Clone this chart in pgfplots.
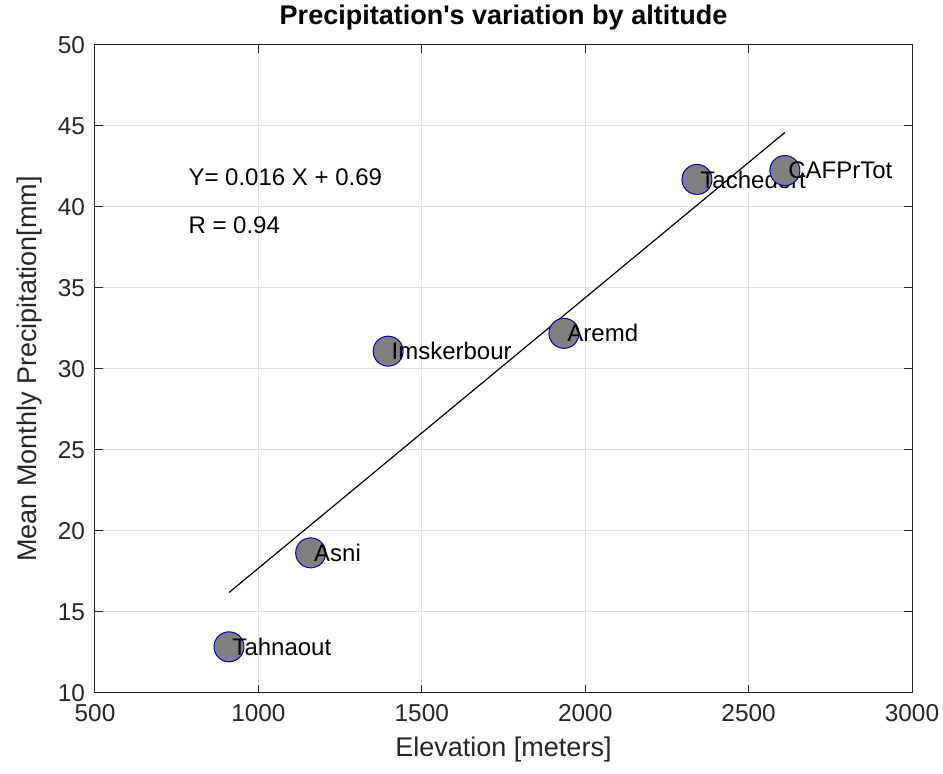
\documentclass[border=0pt]{standalone}
\usepackage{fontspec}
\setmainfont{Liberation Sans}
\usepackage{pgfplots}
\usepackage{pgfplotstable}
\pgfplotsset{compat=1.18}
\definecolor{axgray}{HTML}{262626}
\definecolor{gridc}{HTML}{DFDFDF}
\definecolor{mkgray}{HTML}{808080}
\pgfplotstableread{
x y label
910 12.85 Tahnaout
1160 18.65 Asni
1397 31.1 Imskerbour
1935 32.2 Aremd
2342 41.7 Tachedert
2611 42.25 CAFPrTot
}\stations
\begin{document}
\begin{tikzpicture}
\begin{axis}[
  name=ax,
  scale only axis,
  width=408.5pt, height=324pt,
  xmin=500, xmax=3000, ymin=10, ymax=50,
  xtick={500,1000,...,3000},
  ytick={10,15,...,50},
  grid=major,
  major grid style={gridc, line width=0.5pt},
  axis line style={axgray, line width=0.5pt},
  tick style={axgray, line width=0.5pt},
  major tick length=4pt,
  tick align=inside,
  /pgf/number format/assume math mode=true,
  /pgf/number format/1000 sep={},
  tick label style={font=\fontsize{12.2}{14}\selectfont, text=axgray},
  xticklabel style={yshift=-2pt},
  yticklabel style={xshift=-1.5pt},
  xlabel={Elevation [meters]},
  ylabel={Mean Monthly Precipitation[mm]},
  label style={font=\fontsize{13.5}{16}\selectfont, text=axgray},
  xlabel style={at={(axis description cs:0.5,-0.088)}, anchor=center},
  ylabel style={at={(axis description cs:-0.0800,0.5)}, anchor=center},
  clip=false,
]
\addplot[black, line width=0.6pt] coordinates {(910,16.2) (2611,44.6)};
\addplot[only marks, mark=*, mark size=7.5pt,
  mark options={fill=mkgray, draw=blue!75!black, line width=0.5pt},
  nodes near coords,
  point meta=explicit symbolic,
  nodes near coords style={anchor=west, font=\fontsize{12}{14}\selectfont, text=black, inner sep=0pt, xshift=1.5pt},
] table[x=x, y=y, meta=label] {\stations};
\node[anchor=west, inner sep=0pt, font=\fontsize{12}{14}\selectfont, text=black] at (axis cs:785,41.85) {Y= 0.016 X + 0.69};
\node[anchor=west, inner sep=0pt, font=\fontsize{12}{14}\selectfont, text=black] at (axis cs:785,38.9) {R = 0.94};
\node[anchor=center, inner sep=0pt, font=\bfseries\fontsize{13.5}{16}\selectfont, text=black] at (axis description cs:0.5,1.042) {Precipitation\textquotesingle s variation by altitude};
\end{axis}
\pgfresetboundingbox
\path[use as bounding box] ([xshift=-47.5pt,yshift=-40.5pt]ax.south west) rectangle ([xshift=15.5pt,yshift=22.5pt]ax.north east);
\end{tikzpicture}
\end{document}
